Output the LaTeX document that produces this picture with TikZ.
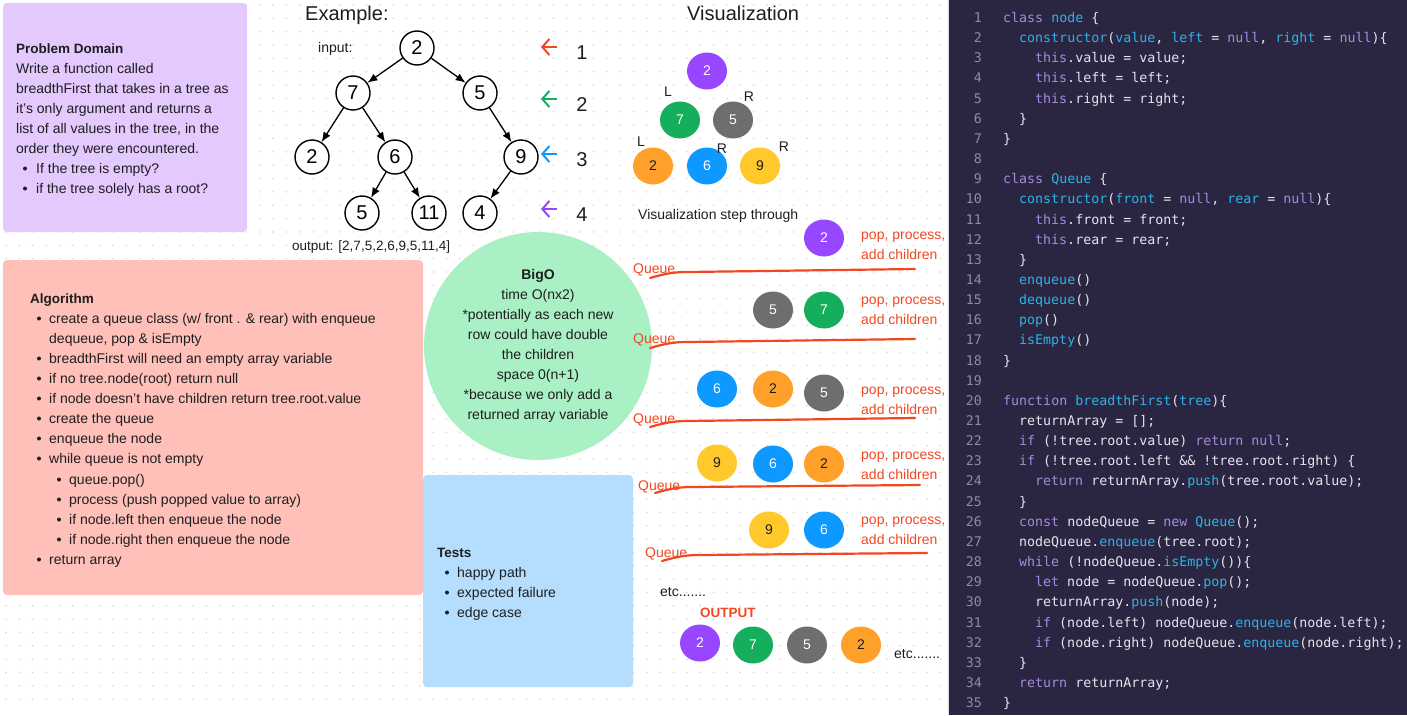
\documentclass[tikz,border=0pt]{standalone}
\usepackage{fontspec}
\setmainfont{Liberation Sans}
\setmonofont{DejaVu Sans Mono}
\usetikzlibrary{shapes.geometric,arrows.meta}

\definecolor{ink}{HTML}{1E1E1E}
\definecolor{griddot}{HTML}{D2D2D2}
\definecolor{pdfill}{HTML}{E3C9FD}
\definecolor{algfill}{HTML}{FFC0BA}
\definecolor{bigofill}{HTML}{A9F1C4}
\definecolor{testfill}{HTML}{B5DEFE}
\definecolor{popred}{HTML}{F24822}
\definecolor{vpurple}{HTML}{9747FF}
\definecolor{vgreen}{HTML}{14AE5C}
\definecolor{vgray}{HTML}{6E6E6E}
\definecolor{vorange}{HTML}{FFA02B}
\definecolor{vblue}{HTML}{0D99FF}
\definecolor{vyellow}{HTML}{FFC92B}
\definecolor{codebg}{HTML}{2A2540}
\definecolor{codefg}{HTML}{E6E4EE}
\definecolor{codenum}{HTML}{8E8BA3}
\definecolor{codekw}{HTML}{A68BDD}
\definecolor{codefn}{HTML}{2DB3E8}
\definecolor{sepline}{HTML}{DCDCDC}

\newcommand{\ckw}[1]{\textcolor{codekw}{#1}}
\newcommand{\cfn}[1]{\textcolor{codefn}{#1}}

\begin{document}
\begin{tikzpicture}[x=1pt, y=1pt,
    txt/.style={anchor=base west, inner sep=0pt, font=\fontsize{14}{17}\selectfont, text=ink},
    hdr/.style={txt, font=\fontsize{13.5}{17}\selectfont\bfseries},
    big/.style={txt, font=\fontsize{20}{24}\selectfont},
    redtxt/.style={txt, text=popred},
    box/.style={rounded corners=4pt, inner sep=0pt},
    tnode/.style={circle, draw=black, line width=1.4pt, fill=white, minimum size=34pt, inner sep=0pt, font=\fontsize{20}{20}\selectfont},
    tedge/.style={line width=1.3pt, -{Latex[length=10pt,width=8pt]}},
    lvl/.style={line width=2pt, -{Straight Barb[length=7pt,width=16pt]}},
    ball/.style={ellipse, minimum width=40pt, minimum height=37pt, inner sep=0pt, font=\fontsize{14}{14}\selectfont, text=white},
    pb/.style={ball, fill=vpurple},
    gb/.style={ball, fill=vgreen},
    kb/.style={ball, fill=vgray},
    bb/.style={ball, fill=vblue},
    ob/.style={ball, fill=vorange, text=ink},
    yb/.style={ball, fill=vyellow, text=ink},
    qline/.style={draw=popred, line width=2.2pt, line cap=round},
    code/.style={anchor=base west, inner sep=0pt, font=\ttfamily\fontsize{13.3}{16}\selectfont, text=codefg},
    lnum/.style={anchor=base east, inner sep=0pt, font=\ttfamily\fontsize{13.3}{16}\selectfont, text=codenum}
]
\useasboundingbox (0,0) rectangle (1407,-715);
\fill[white] (0,0) rectangle (1407,-715);

% dotted canvas
\foreach \gx in {6,19.35,...,946}
  \foreach \gy in {5,18.35,...,712}
    \fill[griddot] (\gx,-\gy) circle (0.8);

% problem domain
\node[box, fill=pdfill, minimum width=244pt, minimum height=229pt] (pd) at (125,-117.5) {};
\node[hdr] (pdh) at (16,-53) {Problem Domain};
\foreach \y/\t in {73/Write a function called, 93/breadthFirst that takes in a tree as,
    113/it’s only argument and returns a, {133/list of all values in the tree, in the},
    153/order they were encountered.}
  \node[txt] (pd\y) at (16,-\y) {\t};
\foreach \y/\t in {173/If the tree is empty?, 193/if the tree solely has a root?} {
  \fill[ink] (25,-\y+4.5) circle (2);
  \node[txt] (pd\y) at (36,-\y) {\t};
}

% algorithm
\node[box, fill=algfill, minimum width=420pt, minimum height=335pt] (alg) at (213,-427.5) {};
\node[hdr] (algh) at (30,-303) {Algorithm};
\foreach \y/\t in {323/{create a queue class (w/ front . \& rear) with enqueue},
    363/breadthFirst will need an empty array variable, 383/{if no tree.node(root) return null},
    403/if node doesn’t have children return tree.root.value, 423/create the queue,
    443/enqueue the node, 463/while queue is not empty, 564/return array} {
  \fill[ink] (39,-\y+4.5) circle (2);
  \node[txt] (al\y) at (49,-\y) {\t};
}
\node[txt] (al343) at (49,-343) {dequeue, pop \& isEmpty};
\foreach \y/\t in {484/{queue.pop()}, 504/{process (push popped value to array)},
    524/if node.left then enqueue the node, 544/if node.right then enqueue the node} {
  \fill[ink] (59,-\y+4.5) circle (2);
  \node[txt] (al\y) at (69,-\y) {\t};
}

% big o
\node[circle, fill=bigofill, minimum size=228pt, inner sep=0pt, align=center,
      font=\fontsize{14}{20}\selectfont, text=ink] (bigo) at (538,-346)
  {\textbf{BigO}\\time O(nx2)\\{*}potentially as each new\\row could have double\\the children\\space 0(n+1)\\{*}because we only add a\\returned array variable};

% tests
\node[box, fill=testfill, minimum width=210pt, minimum height=212pt] (tst) at (528,-581) {};
\node[hdr] (tsth) at (437,-557) {Tests};
\foreach \y/\t in {577/happy path, 597/expected failure, 617/edge case} {
  \fill[ink] (447,-\y+4.5) circle (2);
  \node[txt] (ts\y) at (457,-\y) {\t};
}

% example tree
\node[big] (exh) at (305,-20) {Example:};
\node[txt] (inp) at (318,-52) {input:};
\node[tnode] (t1) at (417,-48) {2};
\node[tnode] (t2) at (353,-93) {7};
\node[tnode] (t3) at (480,-93) {5};
\node[tnode] (t4) at (312,-157) {2};
\node[tnode] (t5) at (395,-157) {6};
\node[tnode] (t6) at (521,-157) {9};
\node[tnode] (t7) at (362,-213) {5};
\node[tnode] (t8) at (429,-213) {11};
\node[tnode] (t9) at (480,-213) {4};
\foreach \a/\b in {t1/t2, t1/t3, t2/t4, t2/t5, t3/t6, t5/t7, t5/t8, t6/t9}
  \draw[tedge] (\a) -- (\b);
\node[txt, font=\fontsize{13.5}{16}\selectfont] (outp) at (292,-250) {output: [2,7,5,2,6,9,5,11,4]};

% levels
\foreach \y/\n/\c in {47/1/popred, 99/2/vgreen, 154/3/vblue, 209/4/vpurple} {
  \draw[lvl, draw=\c] (557,-\y) -- (541,-\y);
  \node[big, anchor=base] (lv\n) at (582,-\y-12) {\n};
}

% visualization
\node[big] (vis) at (687,-20) {Visualization};
\node[pb] (v1) at (707,-71) {2};
\node[gb] (v2) at (680,-120) {7};
\node[kb] (v3) at (733,-120) {5};
\node[ob] (v4) at (653,-166) {2};
\node[bb] (v5) at (707,-166) {6};
\node[yb] (v6) at (760,-166) {9};
\node[txt, anchor=center] (vl1) at (668,-92) {L};
\node[txt, anchor=center] (vr1) at (749,-97) {R};
\node[txt, anchor=center] (vl2) at (641,-142) {L};
\node[txt, anchor=center] (vr2) at (722,-149) {R};
\node[txt, anchor=center] (vr3) at (784,-147) {R};
\node[txt] (step) at (638,-219) {Visualization step through};

% queue steps
\node[pb] (q11) at (824,-238) {2};
\node[kb] (q21) at (773,-310) {5};
\node[gb] (q22) at (824,-310) {7};
\node[bb] (q31) at (717,-389) {6};
\node[ob] (q32) at (773,-389) {2};
\node[kb] (q33) at (824,-393) {5};
\node[yb] (q41) at (717,-463) {9};
\node[bb] (q42) at (773,-464) {6};
\node[ob] (q43) at (824,-464) {2};
\node[yb] (q51) at (769,-530) {9};
\node[bb] (q52) at (824,-530) {6};
\foreach \y [count=\r] in {239,304,394,459,524} {
  \node[redtxt] (pp\r) at (861,-\y) {pop, process,};
  \node[redtxt] (ac\r) at (861,-\y-20) {add children};
}
\foreach \x/\y [count=\r] in {633/273, 633/343, 633/423, 638/490, 645/557}
  \node[redtxt] (ql\r) at (\x,-\y) {Queue};
\foreach \x/\y/\e/\f in {650/278/915/269, 650/348/915/339, 650/427/915/418, 655/493/920/485, 662/561/927/553}
  \draw[qline] (\x,-\y) .. controls +(14,4) and +(-14,0) .. +(37,6) -- (\e,-\f);

\node[txt] (etc1) at (660,-596) {etc.......};
\node[hdr, text=popred] (outh) at (700,-617) {OUTPUT};
\node[pb] (o1) at (700,-643) {2};
\node[gb] (o2) at (753,-645) {7};
\node[kb] (o3) at (807,-645) {5};
\node[ob] (o4) at (861,-645) {2};
\node[txt] (etc2) at (894,-658) {etc.......};

% code panel
\fill[codebg] (949,0) rectangle (1407,-715);
\draw[sepline, line width=1.5pt] (948.5,0) -- (948.5,-715);
\foreach \d/\t [count=\k] in {
    0/{\ckw{class} \cfn{node} \{},
    1/{\cfn{constructor}(\cfn{value}, \cfn{left} = \ckw{null}, \cfn{right} = \ckw{null})\{},
    2/{\ckw{this}.value = value;},
    2/{\ckw{this}.left = left;},
    2/{\ckw{this}.right = right;},
    1/{\}},
    0/{\}},
    0/{},
    0/{\ckw{class} \cfn{Queue} \{},
    1/{\cfn{constructor}(\cfn{front} = \ckw{null}, \cfn{rear} = \ckw{null})\{},
    2/{\ckw{this}.front = front;},
    2/{\ckw{this}.rear = rear;},
    1/{\}},
    1/{\cfn{enqueue}()},
    1/{\cfn{dequeue}()},
    1/{\cfn{pop}()},
    1/{\cfn{isEmpty}()},
    0/{\}},
    0/{},
    0/{\ckw{function} \cfn{breadthFirst}(\cfn{tree})\{},
    1/{returnArray = [];},
    1/{\ckw{if} (!tree.root.value) \ckw{return} \ckw{null};},
    1/{\ckw{if} (!tree.root.left \&\& !tree.root.right) \{},
    2/{\ckw{return} returnArray.\cfn{push}(tree.root.value);},
    1/{\}},
    1/{\ckw{const} nodeQueue = \ckw{new} \cfn{Queue}();},
    1/{nodeQueue.\cfn{enqueue}(tree.root);},
    1/{\ckw{while} (!nodeQueue.\cfn{isEmpty}())\{},
    2/{\ckw{let} node = nodeQueue.\cfn{pop}();},
    2/{returnArray.\cfn{push}(node);},
    2/{\ckw{if} (node.left) nodeQueue.\cfn{enqueue}(node.left);},
    2/{\ckw{if} (node.right) nodeQueue.\cfn{enqueue}(node.right);},
    1/{\}},
    1/{\ckw{return} returnArray;},
    0/{\}}} {
  \node[lnum] (ln\k) at (982,{-22.5-20.15*(\k-1)}) {\k};
  \node[code] (cl\k) at ({1003+16*\d},{-22.5-20.15*(\k-1)}) {\t};
}
\end{tikzpicture}
\end{document}
